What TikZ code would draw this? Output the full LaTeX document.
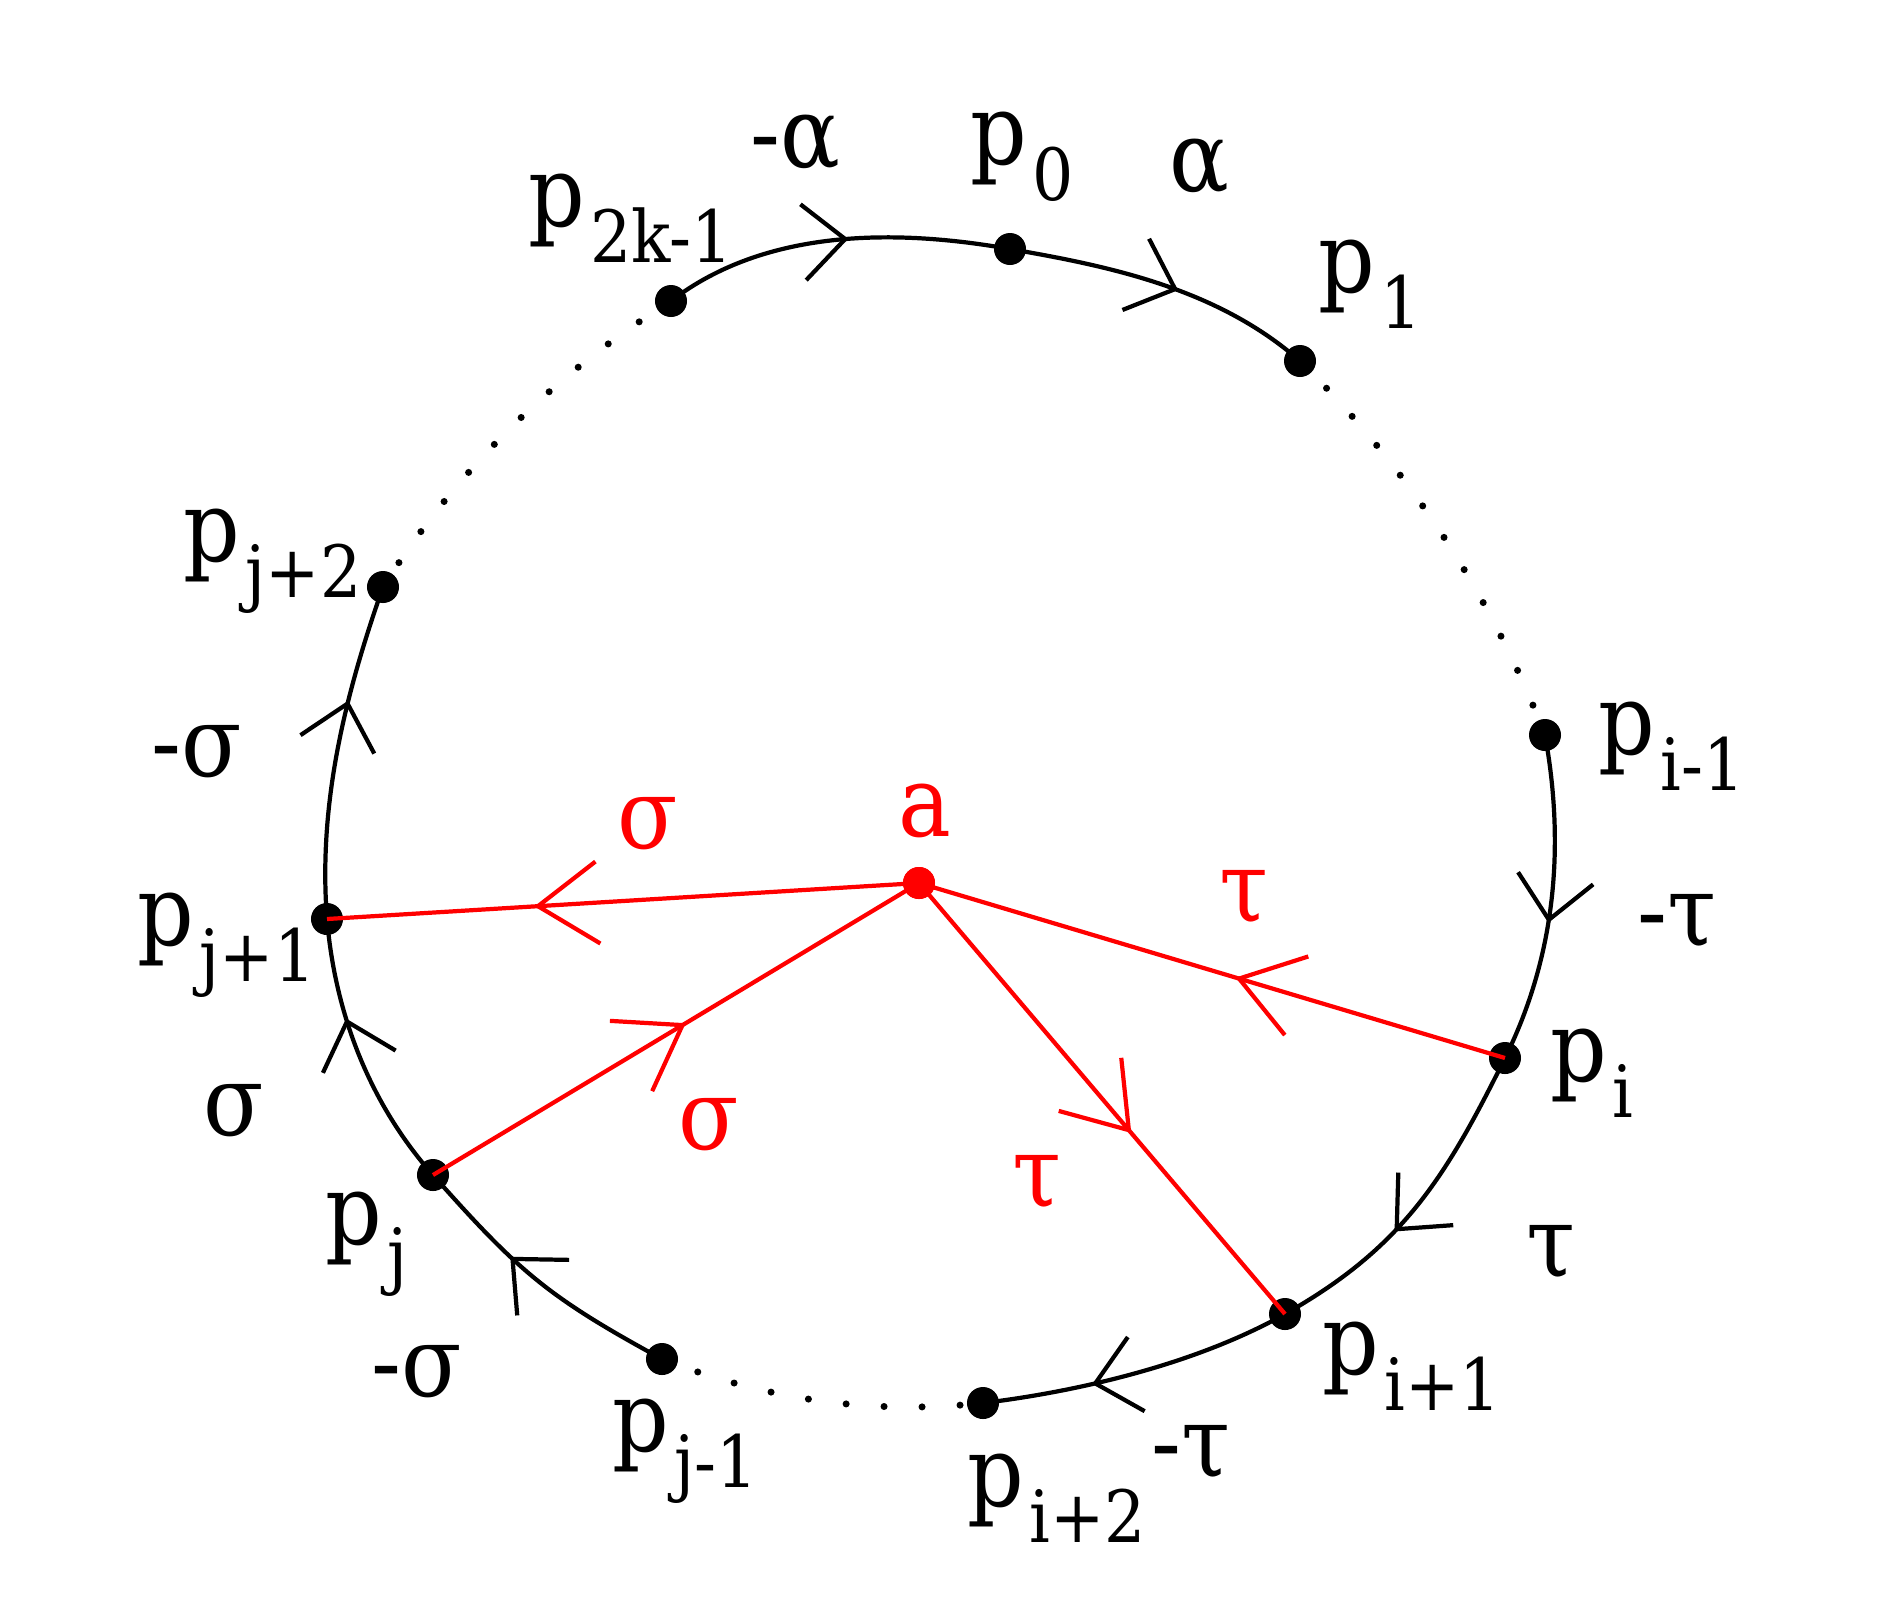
\documentclass[tikz,border=0pt]{standalone}
\usepackage{fontspec}
\setmainfont{DejaVu Serif Condensed}
\usetikzlibrary{arrows.meta,decorations.markings}
\newcommand{\pl}[1]{p\kern1.5pt\raisebox{-10.5pt}{\fontsize{20.5}{22}\selectfont #1}}
\begin{document}
\begin{tikzpicture}[x=0.01cm,y=-0.01cm,
  vtx/.style={circle,fill=black,inner sep=0pt,minimum size=0.32cm},
  rvtx/.style={circle,fill=red,inner sep=0pt,minimum size=0.32cm},
  lab/.style={anchor=base west,inner sep=0pt,font=\fontsize{28}{32}\selectfont},
  rlab/.style={lab,text=red},
  blkline/.style={line width=1.2pt,black},
  dotline/.style={line width=2pt,dash pattern=on 0pt off 0.38cm,line cap=round},
  redline/.style={line width=1.2pt,red},
  barr/.style={decoration={markings,mark=at position #1 with {\arrow{Straight Barb[length=4.2mm,width=7.6mm]}}},postaction={decorate}},
  rarr/.style={decoration={markings,mark=at position #1 with {\arrow{Straight Barb[length=6mm,width=8.2mm]}}},postaction={decorate}}
]
\useasboundingbox (0,0) rectangle (1887,1623);
% vertices
\node[vtx] (p0) at (1010,249) {};
\node[vtx] (p1) at (1300,361) {};
\node[vtx] (p2k) at (671,301) {};
\node[vtx] (pim) at (1545,735) {};
\node[vtx] (pi) at (1505,1058) {};
\node[vtx] (pip) at (1285,1314) {};
\node[vtx] (pipp) at (983,1403) {};
\node[vtx] (pjm) at (662,1359) {};
\node[vtx] (pj) at (433,1175) {};
\node[vtx] (pjp) at (327,919) {};
\node[vtx] (pjpp) at (383,587) {};
\node[rvtx] (a) at (919,883) {};
% solid arcs
\draw[blkline,barr=0.54] (p2k.center) .. controls (766,228) and (897,229) .. (p0.center);
\draw[blkline,barr=0.55] (p0.center) .. controls (1108,266) and (1217,288) .. (p1.center);
\draw[blkline,barr=0.57] (pim.center) .. controls (1565,845) and (1556,955) .. (pi.center);
\draw[blkline,barr=0.6] (pi.center) .. controls (1445,1179) and (1402,1248) .. (pip.center);
\draw[blkline,barr=0.65] (pip.center) .. controls (1198,1363) and (1082,1391) .. (pipp.center);
\draw[blkline,barr=0.62] (pjm.center) .. controls (548,1297) and (519,1272) .. (pj.center);
\draw[blkline,barr=0.64] (pj.center) .. controls (370,1104) and (335,1014) .. (pjp.center);
\draw[blkline,barr=0.65] (pjp.center) .. controls (318,804) and (345,695) .. (pjpp.center);
% dotted arcs
\draw[dotline] (p2k.center) .. controls (553,375) and (457,470) .. (pjpp.center);
\draw[dotline] (p1.center) .. controls (1408,468) and (1490,593) .. (pim.center);
\draw[dotline] (pjm.center) .. controls (767,1400) and (873,1415) .. (pipp.center);
% red edges
\draw[redline,rarr=0.65] (a.center) -- (pjp.center);
\draw[redline,rarr=0.52] (pj.center) -- (a.center);
\draw[redline,rarr=0.46] (pi.center) -- (a.center);
\draw[redline,rarr=0.58] (a.center) -- (pip.center);
\node[rvtx] (a2) at (a) {};
% vertex labels
\node[lab] (lp0) at (970,164) {\pl{0}};
\node[lab] (lp1) at (1318,292) {\pl{1}};
\node[lab] (lp2k) at (528,226) {\pl{2k-1}};
\node[lab] (lpjpp) at (183,561) {\pl{j+2}};
\node[lab] (lpjp) at (137,945) {\pl{j+1}};
\node[lab] (lpj) at (325,1244) {\pl{j}};
\node[lab] (lpjm) at (612,1451) {\pl{j-1}};
\node[lab] (lpipp) at (967,1506) {\pl{i+2}};
\node[lab] (lpip) at (1322,1374) {\pl{i+1}};
\node[lab] (lpi) at (1550,1081) {\pl{i}};
\node[lab] (lpim) at (1598,754) {\pl{i-1}};
% edge labels
\node[lab] (lma) at (750,167) {-α};
\node[lab] (la) at (1169,191) {α};
\node[lab] (lms1) at (151,776) {-σ};
\node[lab] (ls) at (203,1135) {σ};
\node[lab] (lms2) at (371,1396) {-σ};
\node[lab] (lmt1) at (1151,1476) {-τ};
\node[lab] (lt) at (1526,1276) {τ};
\node[lab] (lmt2) at (1637,945) {-τ};
\node[rlab] (laa) at (898,836) {a};
\node[rlab] (lrs1) at (617,848) {σ};
\node[rlab] (lrs2) at (678,1149) {σ};
\node[rlab] (lrt1) at (1219,921) {τ};
\node[rlab] (lrt2) at (1012,1206) {τ};
\end{tikzpicture}
\end{document}
